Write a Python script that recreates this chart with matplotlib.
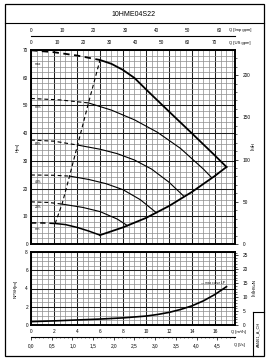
import matplotlib
matplotlib.use("Agg")
import matplotlib.pyplot as plt
from matplotlib.ticker import MultipleLocator, FixedLocator, FuncFormatter
from matplotlib.patches import Rectangle
from matplotlib.lines import Line2D

plt.rcParams['font.family'] = ['Liberation Sans', 'DejaVu Sans']

# ---------------- data (Q in m3/h, H in m) ----------------
title = "10HME04S22"
curve_names = ["max", "80%", "60%", "40%", "20%", "min"]

q_max = [0, 2, 4, 6.0, 7, 8, 9, 10, 12, 14, 16, 17.0]
h_max = [69.9, 69.2, 68.0, 66.4, 65.0, 62.8, 59.9, 55.8, 47.8, 39.9, 31.9, 27.8]

q_80 = [0, 2.5, 5.0, 7, 9, 11, 13, 15, 15.7]
h_80 = [52.5, 52.0, 50.9, 48.3, 44.8, 40.3, 34.5, 27.0, 24.0]

q_60 = [0, 2, 4.05, 6, 7.5, 9, 10.5, 12, 13.3]
h_60 = [37.5, 37.1, 35.7, 34.2, 32.6, 30.3, 27.0, 22.3, 17.2]

q_40 = [0, 2, 3.35, 5, 6.5, 8, 9.5, 10.9]
h_40 = [24.9, 24.8, 24.5, 23.3, 21.8, 19.6, 16.0, 11.3]

q_20 = [0, 1.5, 2.7, 4.5, 6, 7.5, 8.4]
h_20 = [15.2, 15.0, 14.4, 13.2, 11.7, 9.0, 6.6]

q_min = [0, 1, 2.1, 3, 4, 5, 6.0]
h_min = [7.6, 7.6, 7.4, 7.0, 6.0, 4.7, 3.2]

# end of dashed (unstable) part of each curve: min .. max
q_diag = [2.1, 2.7, 3.35, 4.05, 5.0, 6.0]
h_diag = [7.4, 14.4, 24.5, 35.7, 50.9, 66.4]

# right-hand operating limit
q_lim = [6, 8, 10, 12, 14, 16, 17]
h_lim = [3.2, 6.0, 9.4, 13.7, 18.8, 24.6, 27.8]

q_npsh = [0, 2, 4, 6, 8, 10, 11, 12, 13, 14, 15, 16, 17]
npsh = [0.37, 0.45, 0.55, 0.65, 0.78, 0.98, 1.15, 1.38, 1.7, 2.1, 2.65, 3.35, 4.2]

h_ticks = [0, 10, 20, 30, 40, 50, 60, 70]
ft_ticks = [0, 50, 100, 150, 200]
npsh_ticks = [0, 2, 4, 6, 8]
npsh_ft_ticks = [0, 5, 10, 15, 20, 25]
q_ticks = [0, 2, 4, 6, 8, 10, 12, 14, 16]
ls_ticks = [0, 0.5, 1.0, 1.5, 2.0, 2.5, 3.0, 3.5, 4.0, 4.5]
us_ticks = [0, 10, 20, 30, 40, 50, 60, 70]
imp_ticks = [0, 10, 20, 30, 40, 50, 60]

# ---------------- figure ----------------
W, H = 268, 361
fig = plt.figure(figsize=(W / 100, H / 100), dpi=100)
fig.patch.set_facecolor("white")


def rect(l, t, r, b):
    return [l / W, 1 - b / H, (r - l) / W, (b - t) / H]


def ftxt(x, y, s, **kw):
    fig.text(x / W, 1 - y / H, s, **kw)


def fline(xs, ys, **kw):
    fig.add_artist(Line2D([x / W for x in xs], [1 - y / H for y in ys],
                          transform=fig.transFigure, color="black", **kw))


FS = 3.4
XMAX = 17.74

ax = fig.add_axes(rect(31, 50, 235, 244))
axn = fig.add_axes(rect(31, 252, 235, 325))

for a in (ax, axn):
    a.set_xlim(0, XMAX)
    a.xaxis.set_major_locator(MultipleLocator(2))
    a.xaxis.set_minor_locator(MultipleLocator(0.5))
    a.grid(which="major", color="#1e1e1e", lw=0.75)
    a.grid(which="minor", color="#8c8c8c", lw=0.5)
    a.set_axisbelow(True)
    for s in a.spines.values():
        s.set_linewidth(1.4)
    a.tick_params(which="both", length=0, labelsize=FS, pad=2.2)

ax.set_ylim(0, 70)
ax.yaxis.set_major_locator(FixedLocator(h_ticks))
ax.yaxis.set_minor_locator(MultipleLocator(2))
ax.tick_params(axis="x", labelbottom=False)

axn.set_ylim(0, 8)
axn.yaxis.set_major_locator(FixedLocator(npsh_ticks))
axn.yaxis.set_minor_locator(MultipleLocator(0.5))
axn.xaxis.set_major_locator(FixedLocator(q_ticks))
axn.tick_params(axis="x", pad=3.0)
axn.set_xlim(0, XMAX)


def plot_curve(q, h, qs, lw):
    qa = [v for v in q if v <= qs]
    ha = [h[i] for i, v in enumerate(q) if v <= qs]
    qb = [v for v in q if v >= qs]
    hb = [h[i] for i, v in enumerate(q) if v >= qs]
    ax.plot(qa, ha, color="black", lw=lw, ls=(0, (3.5, 2.5)))
    ax.plot(qb, hb, color="black", lw=lw)


curves = [(q_max, h_max), (q_80, h_80), (q_60, h_60),
          (q_40, h_40), (q_20, h_20), (q_min, h_min)]
widths = [1.3, 0.8, 0.8, 0.8, 0.8, 1.1]
label_off = [4.9, 3.0, 1.4, 2.5, 1.8, 2.2]
for (q, h), qs, lw, name, off in zip(curves, q_diag[::-1], widths, curve_names, label_off):
    plot_curve(q, h, qs, lw)
    ax.text(0.35, h[0] - off, name, fontsize=2.4, va="center", ha="left")

ax.plot(q_diag, h_diag, color="black", lw=0.8, ls=(0, (3.5, 2.5)))
ax.plot(q_lim, h_lim, color="black", lw=1.3)

axn.plot(q_npsh, npsh, color="black", lw=1.2)
axn.text(16.9, 4.55, "\u2014 max curve LP", fontsize=2.3, ha="right", va="center")

# conversions
m2ft = (lambda v: v * 3.28084, lambda v: v / 3.28084)
q2us = (lambda v: v * 4.40287, lambda v: v / 4.40287)
q2imp = (lambda v: v * 3.66615, lambda v: v / 3.66615)
q2ls = (lambda v: v / 3.6, lambda v: v * 3.6)

s1 = ax.secondary_yaxis("right", functions=m2ft)
s1.yaxis.set_major_locator(FixedLocator(ft_ticks))
s1.yaxis.set_minor_locator(MultipleLocator(10))
s1.tick_params(which="major", length=2, width=0.5, labelsize=FS, pad=3.5)
s1.tick_params(which="minor", length=1.2, width=0.4)
s1.spines["right"].set_visible(False)

s2 = axn.secondary_yaxis("right", functions=m2ft)
s2.yaxis.set_major_locator(FixedLocator(npsh_ft_ticks))
s2.yaxis.set_minor_locator(MultipleLocator(1))
s2.tick_params(which="major", length=2, width=0.5, labelsize=FS, pad=3.5)
s2.tick_params(which="minor", length=1.2, width=0.4)
s2.spines["right"].set_visible(False)

t1 = ax.secondary_xaxis("top", functions=q2us)
t1.xaxis.set_major_locator(FixedLocator(us_ticks))
t1.tick_params(length=0, labelsize=FS, pad=3.6)
t1.spines["top"].set_visible(False)

t2 = ax.secondary_xaxis(1 + (50 - 35.7) / 194, functions=q2imp)
t2.xaxis.set_major_locator(FixedLocator(imp_ticks))
t2.tick_params(length=0, labelsize=FS, pad=2.0)
t2.spines["top"].set_linewidth(0.8)

b2 = axn.secondary_xaxis(-(337 - 325) / 73, functions=q2ls)
b2.xaxis.set_major_locator(FixedLocator(ls_ticks))
b2.xaxis.set_minor_locator(MultipleLocator(0.1))
b2.xaxis.set_major_formatter(FuncFormatter(lambda v, p: f"{v:.1f}".replace(".", ",")))
b2.tick_params(which="major", length=1.8, width=0.5, labelsize=FS, pad=2.5)
b2.tick_params(which="minor", length=1.0, width=0.4)
b2.spines["bottom"].set_linewidth(0.8)

# axis captions
ftxt(229, 30, "Q [Imp gpm]", fontsize=3.0, ha="left", va="center")
ftxt(229, 43, "Q [US gpm]", fontsize=3.0, ha="left", va="center")
ftxt(231, 332, "Q [m\u00b3/h]", fontsize=3.0, ha="left", va="center")
ftxt(234, 345, "Q [l/s]", fontsize=3.0, ha="left", va="center")
ftxt(18, 147, "H[m]", fontsize=3.2, rotation=90, ha="center", va="center")
ftxt(251, 147, "H[ft]", fontsize=3.2, rotation=270, ha="center", va="center")
ftxt(16, 289, "NPSH[m]", fontsize=3.2, rotation=90, ha="center", va="center")
ftxt(252, 288, "NPSH[ft]", fontsize=3.2, rotation=270, ha="center", va="center")

# title and frame
ftxt(134, 14, title, fontsize=5.0, ha="center", va="center")
fig.add_artist(Rectangle((5 / W, 1 - 356 / H), (264 - 5) / W, (356 - 4) / H,
                         transform=fig.transFigure, fill=False, lw=0.9, ec="black"))
fline([5, 264], [23, 23], lw=0.8)
fline([253, 253], [312, 356], lw=0.8)
fline([253, 264], [312, 312], lw=0.8)
ftxt(258.5, 334, "AM461_A_CH", fontsize=2.8, rotation=90, ha="center", va="center")

fig.savefig("out.png", dpi=100, facecolor="white")
